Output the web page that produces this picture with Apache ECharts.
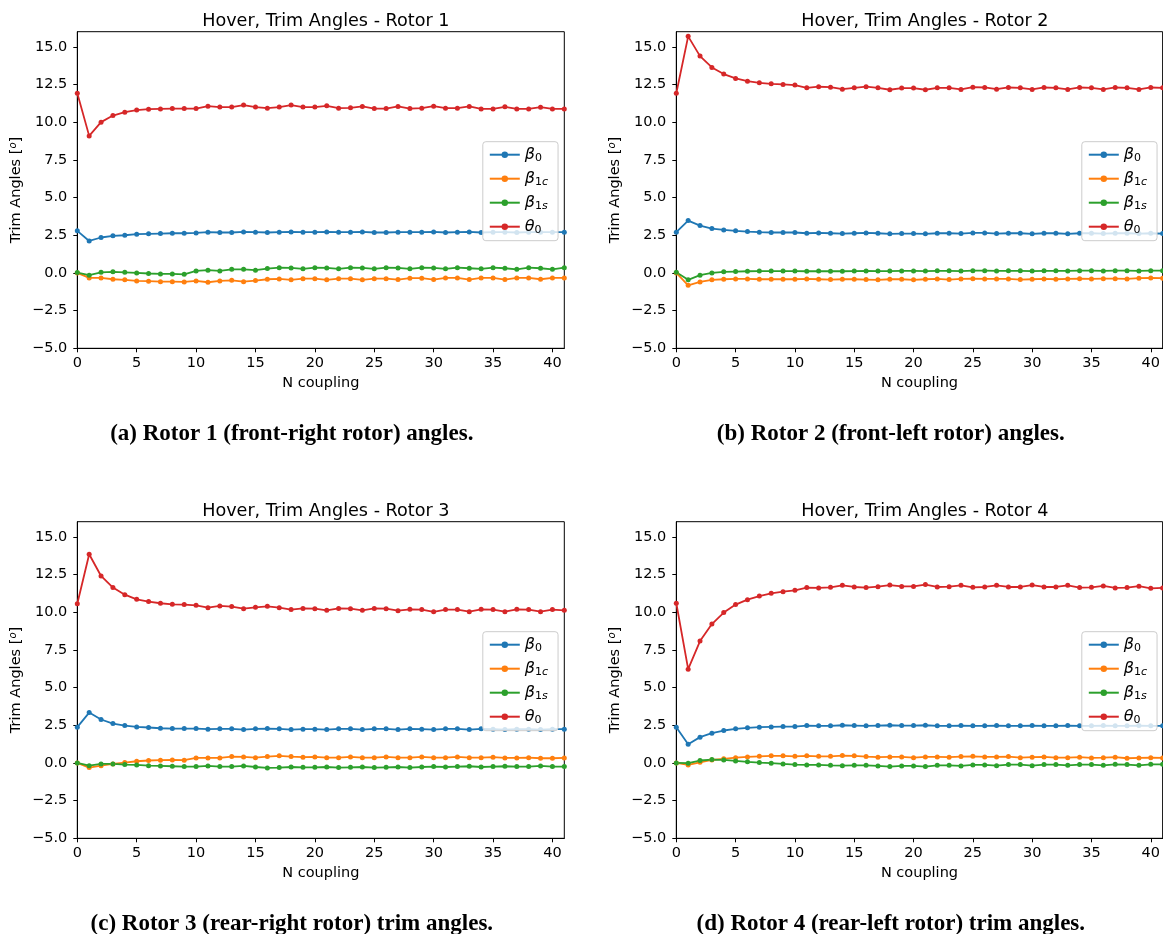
<!DOCTYPE html>
<html style="height: 100%">
<head>
<meta charset="utf-8">
</head>
<body style="height: 100%; margin: 0; background: #fff">
<div id="container" style="width: 1163px; height: 934px"></div>
<script type="text/javascript" src="https://cdn.jsdelivr.net/npm/echarts@6/dist/echarts.min.js"></script>
<script type="text/javascript">
var dom = document.getElementById("container");
var myChart = echarts.init(dom, null, {renderer: 'canvas'});

// N coupling iterations 0..41
var nCoupling = [];
for (var k = 0; k <= 41; k++) nCoupling.push(k);

var seriesNames = ['b0', 'b1c', 'b1s', 'th0'];
var colors = ['#1f77b4', '#ff7f0e', '#2ca02c', '#d62728'];

var titles = [
    'Hover, Trim Angles - Rotor 1',
    'Hover, Trim Angles - Rotor 2',
    'Hover, Trim Angles - Rotor 3',
    'Hover, Trim Angles - Rotor 4'
];
var captions = [
    '(a) Rotor 1 (front-right rotor) angles.',
    '(b) Rotor 2 (front-left rotor) angles.',
    '(c) Rotor 3 (rear-right rotor) trim angles.',
    '(d) Rotor 4 (rear-left rotor) trim angles.'
];
var yTicks = [-5, -2.5, 0, 2.5, 5, 7.5, 10, 12.5, 15];
var xTicks = [0, 5, 10, 15, 20, 25, 30, 35, 40];

// Rotor 1
var b0_1 = [2.79,2.12,2.35,2.46,2.50,2.57,2.59,2.61,2.63,2.63,2.65,2.70,2.68,2.68,2.72,2.70,2.68,2.70,2.72,2.70,2.70,2.72,2.70,2.70,2.72,2.68,2.68,2.70,2.70,2.70,2.72,2.68,2.70,2.72,2.68,2.70,2.70,2.68,2.70,2.70,2.70,2.70];
var b1c_1 = [0,-0.33,-0.33,-0.42,-0.46,-0.53,-0.55,-0.58,-0.58,-0.60,-0.53,-0.62,-0.53,-0.49,-0.58,-0.51,-0.42,-0.40,-0.46,-0.38,-0.38,-0.46,-0.38,-0.38,-0.46,-0.38,-0.38,-0.44,-0.35,-0.35,-0.44,-0.33,-0.33,-0.44,-0.33,-0.33,-0.44,-0.33,-0.33,-0.42,-0.33,-0.33];
var b1s_1 = [0.02,-0.15,0.04,0.07,0.04,0,-0.04,-0.07,-0.07,-0.09,0.13,0.18,0.13,0.24,0.24,0.18,0.29,0.35,0.33,0.27,0.35,0.33,0.27,0.35,0.33,0.27,0.35,0.33,0.27,0.35,0.33,0.27,0.35,0.31,0.27,0.35,0.31,0.24,0.35,0.31,0.24,0.35];
var th0_1 = [11.92,9.09,10.0,10.44,10.66,10.8,10.86,10.88,10.9,10.9,10.9,11.06,11.0,11.0,11.13,11.0,10.93,11.0,11.13,11.0,11.0,11.08,10.93,10.95,11.04,10.9,10.9,11.04,10.9,10.93,11.06,10.93,10.93,11.04,10.88,10.88,11.02,10.88,10.88,10.99,10.88,10.88];

// Rotor 2
var b0_2 = [2.70,3.47,3.14,2.94,2.85,2.79,2.74,2.70,2.68,2.68,2.68,2.63,2.65,2.63,2.61,2.63,2.65,2.63,2.59,2.61,2.61,2.59,2.63,2.63,2.61,2.65,2.65,2.61,2.63,2.63,2.59,2.63,2.63,2.59,2.63,2.63,2.61,2.63,2.63,2.61,2.63,2.61];
var b1c_2 = [0,-0.82,-0.60,-0.46,-0.42,-0.40,-0.40,-0.42,-0.42,-0.42,-0.42,-0.40,-0.42,-0.44,-0.42,-0.42,-0.44,-0.46,-0.42,-0.42,-0.46,-0.42,-0.40,-0.44,-0.40,-0.38,-0.40,-0.40,-0.40,-0.44,-0.42,-0.40,-0.42,-0.40,-0.38,-0.40,-0.38,-0.38,-0.40,-0.35,-0.33,-0.35];
var b1s_2 = [0.04,-0.46,-0.15,0,0.07,0.09,0.11,0.12,0.12,0.12,0.12,0.11,0.12,0.11,0.11,0.12,0.13,0.12,0.12,0.13,0.13,0.12,0.14,0.14,0.12,0.15,0.15,0.13,0.14,0.14,0.12,0.14,0.14,0.13,0.15,0.15,0.13,0.15,0.15,0.13,0.15,0.15];
var th0_2 = [11.92,15.69,14.38,13.63,13.19,12.90,12.72,12.61,12.54,12.50,12.46,12.28,12.35,12.32,12.19,12.28,12.35,12.28,12.15,12.26,12.26,12.15,12.28,12.28,12.17,12.32,12.30,12.19,12.30,12.28,12.17,12.30,12.28,12.17,12.30,12.28,12.17,12.30,12.28,12.17,12.30,12.28];

// Rotor 3
var b0_3 = [2.37,3.34,2.88,2.61,2.48,2.39,2.35,2.30,2.28,2.28,2.28,2.24,2.26,2.26,2.21,2.26,2.28,2.26,2.21,2.24,2.24,2.21,2.26,2.26,2.21,2.26,2.26,2.21,2.26,2.24,2.21,2.26,2.26,2.21,2.26,2.24,2.21,2.24,2.24,2.21,2.24,2.24];
var b1c_3 = [0,-0.31,-0.18,-0.07,0.02,0.11,0.16,0.18,0.20,0.18,0.33,0.33,0.33,0.42,0.40,0.35,0.42,0.47,0.42,0.38,0.40,0.35,0.35,0.40,0.35,0.35,0.40,0.35,0.35,0.40,0.35,0.35,0.40,0.35,0.35,0.38,0.33,0.33,0.35,0.31,0.31,0.33];
var b1s_3 = [0,-0.18,-0.07,-0.07,-0.11,-0.13,-0.18,-0.20,-0.22,-0.24,-0.24,-0.20,-0.24,-0.24,-0.20,-0.27,-0.33,-0.31,-0.27,-0.29,-0.29,-0.27,-0.31,-0.29,-0.27,-0.31,-0.29,-0.27,-0.31,-0.27,-0.24,-0.27,-0.24,-0.22,-0.27,-0.24,-0.22,-0.24,-0.24,-0.20,-0.24,-0.24];
var th0_3 = [10.56,13.84,12.40,11.63,11.16,10.85,10.70,10.59,10.52,10.50,10.45,10.30,10.41,10.37,10.23,10.32,10.39,10.30,10.17,10.25,10.23,10.12,10.25,10.23,10.12,10.25,10.23,10.10,10.19,10.17,10.02,10.17,10.17,10.03,10.19,10.17,10.03,10.19,10.17,10.03,10.17,10.12];

// Rotor 4
var b0_4 = [2.37,1.24,1.71,1.97,2.15,2.26,2.33,2.37,2.39,2.41,2.41,2.48,2.46,2.46,2.50,2.48,2.46,2.48,2.50,2.48,2.48,2.50,2.46,2.46,2.48,2.46,2.46,2.48,2.46,2.46,2.48,2.46,2.46,2.48,2.46,2.46,2.48,2.46,2.46,2.48,2.46,2.46];
var b1c_4 = [0,-0.13,0.04,0.20,0.27,0.35,0.40,0.44,0.47,0.47,0.44,0.47,0.44,0.44,0.49,0.47,0.42,0.38,0.40,0.40,0.35,0.40,0.40,0.38,0.42,0.44,0.40,0.40,0.42,0.35,0.38,0.40,0.35,0.35,0.38,0.33,0.35,0.38,0.31,0.33,0.35,0.33];
var b1s_4 = [0,-0.02,0.16,0.22,0.20,0.13,0.07,0.02,-0.02,-0.07,-0.11,-0.13,-0.13,-0.16,-0.18,-0.16,-0.16,-0.20,-0.24,-0.20,-0.20,-0.24,-0.16,-0.16,-0.20,-0.13,-0.13,-0.18,-0.11,-0.11,-0.18,-0.11,-0.11,-0.16,-0.11,-0.11,-0.16,-0.09,-0.11,-0.16,-0.09,-0.09];
var th0_4 = [10.59,6.22,8.08,9.21,9.97,10.50,10.83,11.07,11.25,11.36,11.45,11.63,11.61,11.65,11.78,11.67,11.63,11.69,11.80,11.71,11.71,11.83,11.67,11.69,11.78,11.65,11.67,11.78,11.67,11.67,11.80,11.67,11.67,11.78,11.63,11.65,11.74,11.61,11.63,11.72,11.58,11.61];

var panelData = [
    [b0_1, b1c_1, b1s_1, th0_1],
    [b0_2, b1c_2, b1s_2, th0_2],
    [b0_3, b1c_3, b1s_3, th0_3],
    [b0_4, b1c_4, b1s_4, th0_4]
];

// layout of the 4 panels (pixels)
var panelLeft = [77.3, 676.3, 77.3, 676.3];
var panelTop = [31.7, 31.7, 521.7, 521.7];
var panelW = 487;
var panelH = 316.6;

var FONT = 'DejaVu Sans';
var legendRich = {
    g: {fontFamily: FONT, fontStyle: 'italic', fontSize: 16, color: '#000'},
    s: {fontFamily: FONT, fontSize: 11, color: '#000', padding: [7, 0, 0, 0]},
    si: {fontFamily: FONT, fontStyle: 'italic', fontSize: 11, color: '#000', padding: [7, 0, 0, 0]}
};
var legendLabels = {
    b0: '{g|β}{s|0}',
    b1c: '{g|β}{s|1}{si|c}',
    b1s: '{g|β}{s|1}{si|s}',
    th0: '{g|θ}{s|0}'
};

function fmt(v) {
    return v.toFixed(1).replace('-', '\u2212');
}

var grids = [], xAxes = [], yAxes = [], series = [], legends = [], titleList = [];

for (var p = 0; p < 4; p++) {
    grids.push({
        left: panelLeft[p], top: panelTop[p], width: panelW, height: panelH,
        show: true, borderColor: '#000', borderWidth: 1, containLabel: false
    });
    xAxes.push({
        type: 'value', gridIndex: p, min: 0, max: 41,
        name: 'N coupling', nameLocation: 'middle', nameGap: 27,
        nameTextStyle: {fontFamily: FONT, fontSize: 14.5, color: '#000'},
        axisLine: {show: true, onZero: false, lineStyle: {color: '#000', width: 1}},
        axisTick: {show: true, length: 4, lineStyle: {color: '#000'}, customValues: xTicks},
        axisLabel: {fontFamily: FONT, fontSize: 14.5, color: '#000', margin: 7, customValues: xTicks},
        splitLine: {show: false}
    });
    yAxes.push({
        type: 'value', gridIndex: p, min: -5, max: 16,
        name: 'Trim Angles [{sup|o}]', nameLocation: 'middle', nameGap: 53,
        nameTextStyle: {
            fontFamily: FONT, fontSize: 14.5, color: '#000',
            rich: {sup: {fontFamily: FONT, fontStyle: 'italic', fontSize: 10, color: '#000', padding: [0, 0, 6, 0]}}
        },
        axisLine: {show: true, onZero: false, lineStyle: {color: '#000', width: 1}},
        axisTick: {show: true, length: 4, lineStyle: {color: '#000'}, customValues: yTicks},
        axisLabel: {fontFamily: FONT, fontSize: 14.5, color: '#000', margin: 10, customValues: yTicks, formatter: fmt},
        splitLine: {show: false}
    });
    for (var s = 0; s < 4; s++) {
        var pts = nCoupling.map(function (n, i) { return [n, panelData[p][s][i]]; });
        series.push({
            name: seriesNames[s], type: 'line', xAxisIndex: p, yAxisIndex: p,
            data: pts, symbol: 'circle', symbolSize: 5, showAllSymbol: true,
            color: colors[s],
            lineStyle: {width: 1.8, color: colors[s]},
            itemStyle: {color: colors[s]},
            emphasis: {disabled: true},
            animation: false
        });
    }
    legends.push({
        orient: 'vertical',
        left: panelLeft[p] + 405.5,
        top: panelTop[p] + 110,
        data: seriesNames,
        itemWidth: 30, itemHeight: 8, itemGap: 7,
        padding: [5, 10, 5, 6],
        borderColor: '#cccccc', borderWidth: 1, borderRadius: 3,
        backgroundColor: 'rgba(255,255,255,0.8)',
        selectedMode: false,
        formatter: function (name) { return legendLabels[name]; },
        textStyle: {fontFamily: FONT, fontSize: 16, lineHeight: 16, color: '#000', rich: legendRich}
    });
    titleList.push({
        text: titles[p],
        left: panelLeft[p] + panelW / 2, top: panelTop[p] - 24, textAlign: 'center',
        textStyle: {fontFamily: FONT, fontSize: 17.6, fontWeight: 'normal', color: '#000'}
    });
    titleList.push({
        text: captions[p],
        left: panelLeft[p] + panelW / 2 - 34, top: panelTop[p] + 386, textAlign: 'center',
        textStyle: {fontFamily: 'Liberation Serif', fontSize: 23, fontWeight: 'bold', color: '#000'}
    });
}

var option = {
    animation: false,
    backgroundColor: '#fff',
    title: titleList,
    legend: legends,
    grid: grids,
    xAxis: xAxes,
    yAxis: yAxes,
    series: series
};

if (option && typeof option === 'object') {
    myChart.setOption(option);
}
</script>
</body>
</html>
